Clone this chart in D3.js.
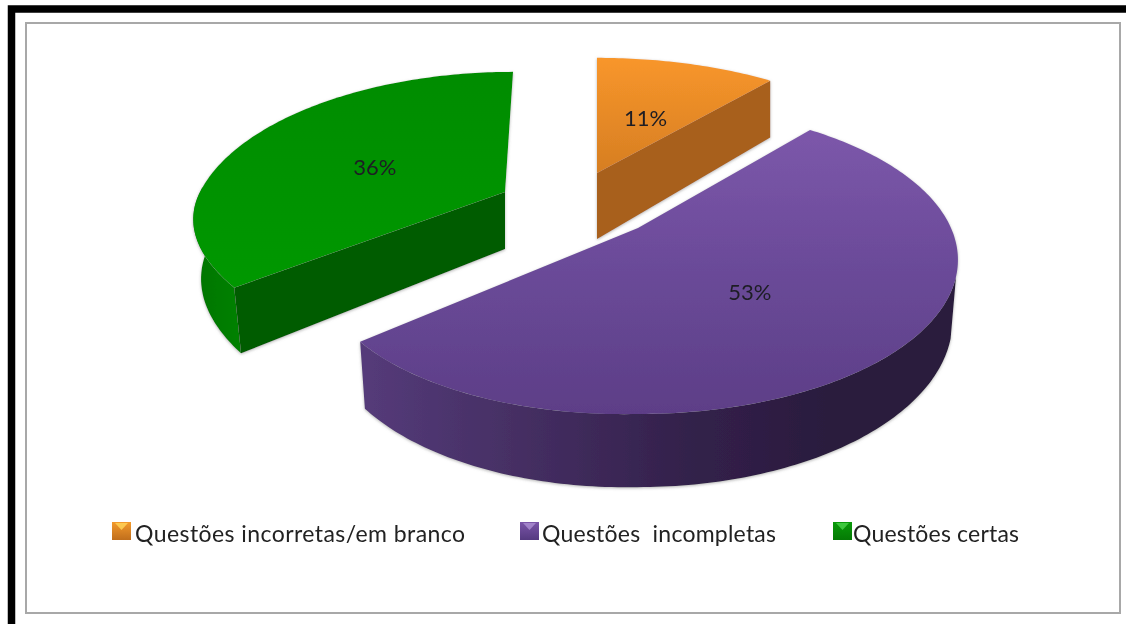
<!DOCTYPE html>
<html>
<head>
<meta charset="utf-8">
<script src="https://cdn.jsdelivr.net/npm/d3@7/dist/d3.min.js"></script>
<style>
html,body{margin:0;padding:0;background:#fff;overflow:hidden}
svg{display:block;filter:blur(.45px)}
text{font-family:Lato,"Open Sans",sans-serif}
</style>
</head>
<body>
<svg id="c" width="1126" height="624"></svg>
<script>
// Data
const categories = ["Questões incorretas/em branco", "Questões  incompletas", "Questões certas"];
const values = [11, 53, 36];
const valueLabels = ["11%", "53%", "36%"];

const W = 1126, H = 624;
const svg = d3.select("#c");
const defs = svg.append("defs");

function grad(id, stops, x1, y1, x2, y2) {
  const g = defs.append("linearGradient").attr("id", id)
    .attr("gradientUnits", "userSpaceOnUse")
    .attr("x1", x1).attr("y1", y1).attr("x2", x2).attr("y2", y2);
  stops.forEach(s => g.append("stop").attr("offset", s[0]).attr("stop-color", s[1]));
}
grad("topO", [[0, "#f8962b"], [1, "#d67e22"]], 0, 58, 0, 173);
grad("topP", [[0, "#7c57aa"], [0.5, "#6a4a98"], [1, "#5d3e87"]], 0, 131, 0, 414);
grad("topG", [[0, "#008c00"], [1, "#009800"]], 0, 72, 0, 290);
grad("wallP", [[0, "#553b7a"], [0.3, "#432d60"], [0.55, "#33214b"], [0.8, "#2a1b3d"], [1, "#2a1b3d"]], 361, 0, 955, 0);
grad("wallG", [[0, "#007400"], [1, "#008200"]], 192, 0, 243, 0);

const soft = defs.append("filter").attr("id", "soft")
  .attr("x", "-10%").attr("y", "-10%").attr("width", "120%").attr("height", "120%");
soft.append("feDropShadow").attr("dx", 0).attr("dy", 1).attr("stdDeviation", 1.6)
  .attr("flood-color", "#777").attr("flood-opacity", 0.55);

// frame
svg.append("rect").attr("width", W).attr("height", H).attr("fill", "#fff");
svg.append("rect").attr("x", 26).attr("y", 23).attr("width", 1094).attr("height", 590)
  .attr("fill", "#fff").attr("stroke", "#a8a8a8").attr("stroke-width", 2);
svg.append("path").attr("d", `M11.5,${H} V9 H${W}`).attr("fill", "none")
  .attr("stroke", "#000").attr("stroke-width", 7.5);

// per-slice presentation (exploded 3D pie)
const looks = [
  {cx: 597, cy: 173, rx: 315, ry: 139,   p: .207, depth: 66, lean: 0, tilt: 0,    shrink: 1,    labelF: .5,  labelDy: 13, top: "url(#topO)", swatch: ["#f39a2c", "#c06e1c"], tri: "#ffd257"},
  {cx: 638, cy: 228, rx: 313, ry: 147.5, p: .207, depth: 58, lean: 0, tilt: -.02, shrink: .983, labelF: .47, labelDy: 19, top: "url(#topP)", swatch: ["#7a55a8", "#553a80"], tri: "#a98cd0"},
  {cx: 505, cy: 192, rx: 305, ry: 145,   p: .207, depth: 57, lean: 8, tilt: .04,  shrink: .975, labelF: .5,  labelDy: 13, top: "url(#topG)", swatch: ["#0a9a0a", "#047a04"], tri: "#46d046"}
];

const arcs = d3.pie().sort(null)(values);

function project(L, t, f = 1, lower = false) {
  const sn = f * Math.sin(t), cs = f * Math.cos(t);
  const s = 1 / (1 + L.p * cs);
  let dx = L.rx * sn * s;
  const dy = -L.ry * cs * s;
  if (lower) dx *= L.shrink;
  const back = Math.max(0, cs * s);
  const x = L.cx + dx + L.lean * back / 0.826;
  // the tilt only bends the front-left part of the rim
  const frontLeft = Math.min(0, sn) * Math.min(1, Math.max(0, -cs / 0.637));
  const y = L.cy + dy + L.tilt * L.rx * frontLeft * s + (lower ? L.depth * s : 0);
  return [x, y];
}
const line = d3.line();
function arcPts(L, a0, a1, lower = false) {
  const n = Math.max(2, Math.ceil(Math.abs(a1 - a0) * 60));
  return d3.range(n + 1).map(i => project(L, a0 + (a1 - a0) * i / n, 1, lower));
}

function drawSlice(i, wallFill, cutFill, wallRange, cutAngle) {
  const L = looks[i], a = arcs[i];
  const g = svg.append("g").attr("filter", "url(#soft)");
  if (wallRange) {
    g.append("path").attr("fill", wallFill).attr("d", line(
      arcPts(L, wallRange[0], wallRange[1]).concat(arcPts(L, wallRange[1], wallRange[0], true))) + "Z");
  }
  if (cutAngle !== null) {
    g.append("path").attr("fill", cutFill).attr("d", line([
      project(L, 0, 0), project(L, cutAngle), project(L, cutAngle, 1, true), project(L, 0, 0, true)
    ]) + "Z");
  }
  g.append("path").attr("fill", L.top).attr("d",
    line([project(L, 0, 0)].concat(arcPts(L, a.startAngle, a.endAngle))) + "Z");
}

const rad = d => d * Math.PI / 180;
// green
drawSlice(2, "url(#wallG)", "#005c00", [rad(272), arcs[2].startAngle], arcs[2].startAngle);
// orange
drawSlice(0, null, "#a8601a", null, arcs[0].endAngle);
// purple
drawSlice(1, "url(#wallP)", null, [rad(108), arcs[1].endAngle], null);

// value labels
arcs.forEach((a, i) => {
  const [x, y] = project(looks[i], (a.startAngle + a.endAngle) / 2, looks[i].labelF);
  svg.append("text").attr("x", x).attr("y", y + looks[i].labelDy).attr("text-anchor", "middle")
    .attr("font-size", 22).attr("fill", "#1d1d24").text(valueLabels[i]);
});

// legend
const legendX = d3.scaleOrdinal().domain(categories).range([112, 520, 833]);
const legendGap = d3.scaleOrdinal().domain(categories).range([23, 22, 20]);
const legendLen = d3.scaleOrdinal().domain(categories).range([330, 234, 166]);
categories.forEach((c, i) => {
  const x = legendX(c), L = looks[i];
  grad("sw" + i, [[0, L.swatch[0]], [1, L.swatch[1]]], 0, 522, 0, 540);
  svg.append("rect").attr("x", x).attr("y", 522).attr("width", 19).attr("height", 18)
    .attr("fill", `url(#sw${i})`);
  svg.append("path").attr("fill", L.tri).attr("opacity", .85)
    .attr("d", d3.line()([[x + 3, 523], [x + 16, 523], [x + 9.5, 530]]) + "Z");
  svg.append("text").attr("x", x + legendGap(c)).attr("y", 542)
    .attr("font-size", 23).attr("fill", "#222")
    .attr("xml:space", "preserve").style("white-space", "pre")
    .attr("textLength", legendLen(c)).attr("lengthAdjust", "spacing")
    .text(c);
});
</script>
</body>
</html>
